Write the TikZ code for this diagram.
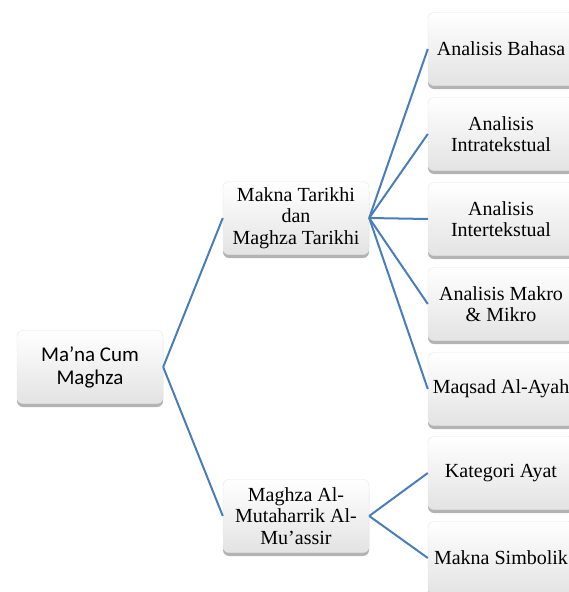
\documentclass[tikz,border=0pt]{standalone}
\usepackage{fontspec}
\setmainfont{Liberation Serif}
\newfontfamily\calibri{Carlito}
\usetikzlibrary{shadows}

\definecolor{linkblue}{RGB}{74,126,187}

\tikzset{
  box/.style={rounded corners=6pt, draw=gray!20, top color=white, bottom color=gray!22,
    drop shadow={shadow xshift=0pt, shadow yshift=-3.5pt, opacity=0.6},
    minimum width=146pt, minimum height=73pt, align=center,
    font=\fontsize{20}{21.5}\selectfont},
  link/.style={linkblue, line width=2pt},
}

\begin{document}
\begin{tikzpicture}[x=1pt, y=-1pt]
  \useasboundingbox (0,0) rectangle (569,592);

  % root and second level
  \node[box, font=\calibri\fontsize{21}{23}\selectfont] (root) at (90,367) {Ma’na Cum\\Maghza};
  \node[box] (tarikhi) at (296,218) {Makna Tarikhi\\dan\\Maghza Tarikhi};
  \node[box] (muassir) at (296,516) {Maghza Al-\\Mutaharrik Al-\\Mu’assir};

  % leaves
  \node[box] (bahasa) at (501,49) {Analisis Bahasa};
  \node[box] (intra) at (501,134) {Analisis\\Intratekstual};
  \node[box] (inter) at (501,219) {Analisis\\Intertekstual};
  \node[box] (makro) at (501,304) {Analisis Makro\\\& Mikro};
  \node[box] (maqsad) at (501,389) {Maqsad Al-Ayah};
  \node[box] (kategori) at (501,473) {Kategori Ayat};
  \node[box] (simbolik) at (501,558) {Makna Simbolik};

  % connectors
  \draw[link] (root.east) -- (tarikhi.west);
  \draw[link] (root.east) -- (muassir.west);
  \foreach \leaf in {bahasa,intra,inter,makro,maqsad}
    \draw[link] (tarikhi.east) -- (\leaf.west);
  \foreach \leaf in {kategori,simbolik}
    \draw[link] (muassir.east) -- (\leaf.west);
\end{tikzpicture}
\end{document}
